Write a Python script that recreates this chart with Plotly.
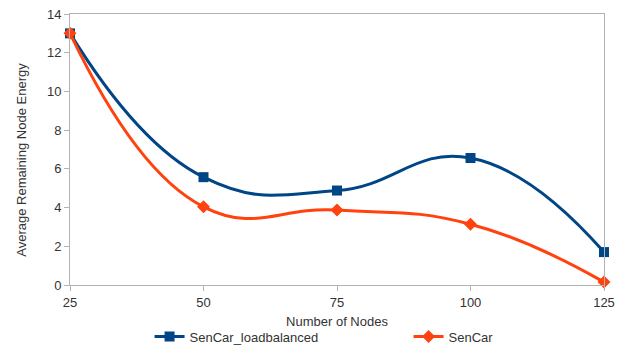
import plotly.graph_objects as go

nodes = [25, 50, 75, 100, 125]
loadbalanced = [13.0, 5.57, 4.88, 6.56, 1.7]
sencar = [13.0, 4.04, 3.87, 3.14, 0.15]

BLUE = "#004586"
ORANGE = "#ff420e"

fig = go.Figure()
fig.add_trace(go.Scatter(
    x=nodes, y=loadbalanced, name="SenCar_loadbalanced",
    mode="lines+markers",
    line=dict(color=BLUE, width=3, shape="spline", smoothing=1.3),
    marker=dict(symbol="square", size=10, color=BLUE),
    cliponaxis=False, legend="legend",
))
fig.add_trace(go.Scatter(
    x=nodes, y=sencar, name="SenCar",
    mode="lines+markers",
    line=dict(color=ORANGE, width=3, shape="spline", smoothing=1.3),
    marker=dict(symbol="diamond", size=10, color=ORANGE),
    cliponaxis=False, legend="legend2",
))

axis_common = dict(
    showline=True, linecolor="#b3b3b3", linewidth=1, mirror=True,
    showgrid=False, zeroline=False, automargin=False,
    ticks="outside", ticklen=5, tickcolor="#b3b3b3",
    tickfont=dict(size=13, color="#333333"),
    ticklabeloverflow="allow",
)

legend_common = dict(orientation="h", xanchor="left", y=-0.135, yanchor="top",
                     font=dict(size=13, color="#333333"),
                     bgcolor="rgba(0,0,0,0)")

# page body has an 8px margin, so the figure is sized to fit the window
fig.update_layout(
    width=619, height=339,
    margin=dict(l=62, r=23, t=6, b=62, autoexpand=False),
    paper_bgcolor="white", plot_bgcolor="white",
    font=dict(family="Liberation Sans, Arial, sans-serif", color="#333333"),
    showlegend=True,
    legend=dict(x=0.149, **legend_common),
    legend2=dict(x=0.634, **legend_common),
    xaxis=dict(range=[25, 125], tickvals=nodes,
               title=dict(text="Number of Nodes", font=dict(size=13), standoff=8),
               **axis_common),
    yaxis=dict(range=[0, 14], dtick=2, **axis_common),
    annotations=[dict(
        text="Average Remaining Node Energy", textangle=-90,
        xref="paper", yref="paper", x=-0.09, y=0.462,
        xanchor="center", yanchor="middle", showarrow=False,
        font=dict(size=13, color="#333333"),
    )],
)

fig.write_html("out.html")
